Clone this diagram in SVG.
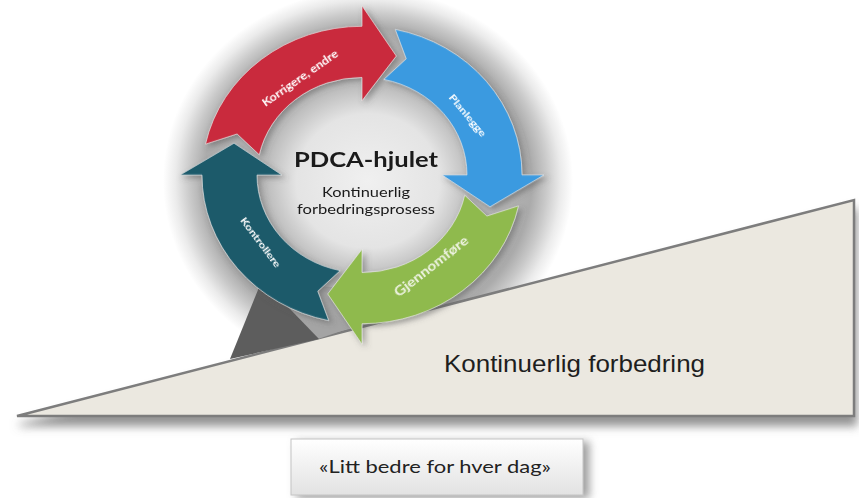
<svg xmlns="http://www.w3.org/2000/svg" width="859" height="498" viewBox="0 0 859 498">
<style>
.lbl{font-family:Lato,"Open Sans","Liberation Sans",sans-serif;font-weight:bold;fill:#ffffff;text-anchor:middle}
.ctr{font-family:Lato,"Open Sans","Liberation Sans",sans-serif;fill:#1a1a1a;text-anchor:middle}
.arr{stroke:#e8e8e8;stroke-width:1;stroke-opacity:0.7}
</style>
<defs>
<radialGradient id="halo" cx="0.5" cy="0.5" r="0.5">
<stop offset="0" stop-color="#f0f0f0"/>
<stop offset="0.35" stop-color="#e4e4e4"/>
<stop offset="0.5" stop-color="#bcbcbc"/>
<stop offset="0.8" stop-color="#ababab"/>
<stop offset="0.87" stop-color="#c9c9c9"/>
<stop offset="0.94" stop-color="#ebebeb"/>
<stop offset="1" stop-color="#ffffff"/>
</radialGradient>
<linearGradient id="boxg" x1="0" y1="0" x2="0" y2="1">
<stop offset="0" stop-color="#ffffff"/>
<stop offset="1" stop-color="#e2e2e2"/>
</linearGradient>
<filter id="triShadow" x="-5%" y="-20%" width="115%" height="150%">
<feDropShadow dx="2" dy="9" stdDeviation="5" flood-color="#6e6e6e" flood-opacity="0.75"/>
</filter>
<filter id="boxShadow" x="-10%" y="-20%" width="125%" height="160%">
<feDropShadow dx="6" dy="3" stdDeviation="4" flood-color="#777777" flood-opacity="0.7"/>
</filter>
<filter id="arrShadow" x="-20%" y="-20%" width="150%" height="150%">
<feDropShadow dx="3" dy="3" stdDeviation="3" flood-color="#555555" flood-opacity="0.5"/>
</filter>
<path id="seg" d="M -156.50 -33.27 A 160 160 0 0 1 0 -160 L 0 -182 L 34.29 -127.99 L 0 -80 L 0 -105 A 105 105 0 0 0 -102.71 -21.83 L -124.90 -44.23 Z"/>
</defs>
<rect x="0" y="0" width="859" height="498" fill="#ffffff"/>

<g id="halo-bg">
<ellipse cx="368" cy="181" rx="205" ry="192" fill="url(#halo)"/>
</g>

<g id="slope">
<polygon points="17,416 854,200 854,416" fill="#ebe8e0" stroke="#7d7d7d" stroke-width="2.5" stroke-linejoin="miter" filter="url(#triShadow)"/>
<text x="444" y="372" font-family="'Liberation Sans',Arial,sans-serif" font-size="24" fill="#1e1e1e" textLength="261" lengthAdjust="spacingAndGlyphs">Kontinuerlig forbedring</text>
</g>

<g id="stand">
<polygon points="262,282 345,288 350,328 318,339" fill="#a4a4a4"/>
<polygon points="230,359 262,280 319,339" fill="#5d5d5d"/>
</g>

<g id="wheel">
<g transform="translate(362,175) scale(1,0.93)" filter="url(#arrShadow)">
<use href="#seg" id="arrow-korrigere" class="arr" fill="#c9293c" vector-effect="non-scaling-stroke"/>
<use href="#seg" id="arrow-planlegge" class="arr" fill="#3b9ae0" transform="rotate(90)"/>
<use href="#seg" id="arrow-gjennomfore" class="arr" fill="#8fba4d" transform="rotate(180)"/>
<use href="#seg" id="arrow-kontrollere" class="arr" fill="#1c5a6b" transform="rotate(270)"/>
</g>
<text class="lbl" font-size="10.5" textLength="90" lengthAdjust="spacingAndGlyphs" transform="translate(300,78) rotate(-35)" y="4">Korrigere, endre</text>
<text class="lbl" font-size="9.5" textLength="52" lengthAdjust="spacingAndGlyphs" transform="translate(468,115) rotate(50)" y="3.5">Planlegge</text>
<text class="lbl" font-size="12.5" textLength="90" lengthAdjust="spacingAndGlyphs" fill="#eef3e2" style="fill:#eef3e2" transform="translate(431,266) rotate(-38)" y="4.5">Gjennomføre</text>
<text class="lbl" font-size="10" textLength="60" lengthAdjust="spacingAndGlyphs" transform="translate(261,242) rotate(53)" y="3.5">Kontrollere</text>
</g>

<g id="center">
<text class="ctr" x="366" y="167" font-size="21" font-weight="bold" textLength="144" lengthAdjust="spacingAndGlyphs">PDCA-hjulet</text>
<text class="ctr" x="366" y="197" font-size="14" fill="#2a2a2a" textLength="88" lengthAdjust="spacingAndGlyphs">Kontinuerlig</text>
<text class="ctr" x="366" y="214" font-size="14" fill="#2a2a2a" textLength="138" lengthAdjust="spacingAndGlyphs">forbedringsprosess</text>
</g>

<g id="motto">
<rect x="291" y="439" width="292" height="56" fill="url(#boxg)" stroke="#c4c4c4" stroke-width="1" filter="url(#boxShadow)"/>
<text x="435" y="473" font-family="Lato,'Open Sans','Liberation Sans',sans-serif" font-size="18" fill="#222222" text-anchor="middle" textLength="232" lengthAdjust="spacingAndGlyphs">«Litt bedre for hver dag»</text>
</g>
</svg>
